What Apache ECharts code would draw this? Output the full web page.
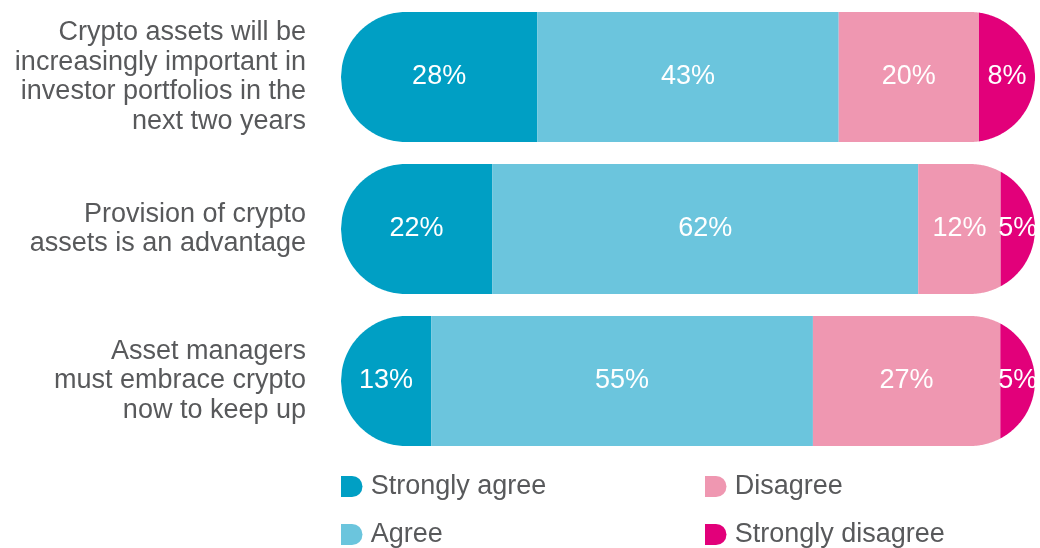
<!DOCTYPE html>
<html>
<head>
<meta charset="utf-8">
<script src="https://cdn.jsdelivr.net/npm/echarts@6/dist/echarts.min.js"></script>
<style>
  html, body { margin: 0; padding: 0; background: #ffffff; }
  #chart { width: 1040px; height: 548px; }
</style>
</head>
<body>
<div id="chart"></div>
<script>
// Survey statements, one pill-shaped bar each
const categories = [
  'Crypto assets will be\nincreasingly important in\ninvestor portfolios in the\nnext two years',
  'Provision of crypto\nassets is an advantage',
  'Asset managers\nmust embrace crypto\nnow to keep up'
];
const segmentNames = ['Strongly agree', 'Agree', 'Disagree', 'Strongly disagree'];
const stronglyAgree = [28, 22, 13];
const agree = [43, 62, 55];
const disagree = [20, 12, 27];
const stronglyDisagree = [8, 5, 5];

const segmentColors = ['#009FC4', '#6BC5DD', '#EF97B1', '#E2007A'];
const segmentValues = [stronglyAgree, agree, disagree, stronglyDisagree];

const FONT = 'Arial';
const TEXT_GREY = '#58595B';
const barTops = [12, 164, 316];
const barHeight = 130;

// Each bar is a pill: segments are clipped to a rounded capsule spanning the whole row.
function makeRenderer(total) {
  return function (params, api) {
    const x0 = api.coord([api.value(0), 0])[0];
    const x1 = api.coord([api.value(1), 0])[0];
    const left = api.coord([0, 0])[0];
    const right = api.coord([total, 0])[0];
    const cy = api.coord([0, 0])[1];
    const r = api.size([0, 1])[1] / 2;
    const halfH = function (x) {
      if (x < left + r) { const d = left + r - x; return Math.sqrt(Math.max(r * r - d * d, 0)); }
      if (x > right - r) { const d = x - (right - r); return Math.sqrt(Math.max(r * r - d * d, 0)); }
      return r;
    };
    const xs = [];
    for (let x = x0; x < x1; x += 1) xs.push(x);
    xs.push(x1);
    const top = xs.map(function (x) { return [x, cy - halfH(x)]; });
    const bottom = xs.slice().reverse().map(function (x) { return [x, cy + halfH(x)]; });
    return {
      type: 'group',
      children: [
        {
          type: 'polygon',
          shape: { points: top.concat(bottom) },
          style: { fill: api.visual('color') }
        },
        {
          type: 'text',
          x: (x0 + x1) / 2,
          y: cy,
          style: {
            text: api.value(2) + '%',
            fill: '#ffffff',
            fontSize: 27,
            fontFamily: FONT,
            align: 'center',
            verticalAlign: 'middle'
          }
        }
      ]
    };
  };
}

const grids = [], xAxes = [], yAxes = [], series = [];
categories.forEach(function (cat, i) {
  const total = segmentValues.reduce(function (s, arr) { return s + arr[i]; }, 0);
  grids.push({ left: 341, right: 5, top: barTops[i], height: barHeight });
  xAxes.push({ gridIndex: i, type: 'value', min: 0, max: total, show: false });
  yAxes.push({
    gridIndex: i,
    type: 'category',
    data: [cat],
    axisLine: { show: false },
    axisTick: { show: false },
    splitLine: { show: false },
    axisLabel: {
      margin: 35,
      color: TEXT_GREY,
      fontSize: 27,
      fontFamily: FONT,
      lineHeight: 29.5,
      align: 'right'
    }
  });
  let start = 0;
  segmentNames.forEach(function (name, k) {
    const v = segmentValues[k][i];
    series.push({
      type: 'custom',
      name: name,
      xAxisIndex: i,
      yAxisIndex: i,
      itemStyle: { color: segmentColors[k] },
      encode: { x: [0, 1], y: 3 },
      renderItem: makeRenderer(total),
      data: [[start, start + v, v, 0]]
    });
    start += v;
  });
});

// Legend: two columns, two rows, D-shaped swatches
const legendIcon = 'path://M0,0H11A10.5,10.5,0,0,1,11,21H0Z';
const legendSlots = [
  { left: 341, top: 473 },
  { left: 341, top: 521 },
  { left: 705, top: 473 },
  { left: 705, top: 521 }
];
const legends = segmentNames.map(function (name, k) {
  return {
    left: legendSlots[k].left,
    top: legendSlots[k].top,
    padding: 0,
    itemWidth: 22,
    itemHeight: 21,
    icon: legendIcon,
    selectedMode: false,
    data: [name],
    textStyle: { color: TEXT_GREY, fontSize: 27, fontFamily: FONT, lineHeight: 21, padding: [3, 0, 0, 3] }
  };
});

const chart = echarts.init(document.getElementById('chart'), null, { renderer: 'canvas' });
chart.setOption({
  animation: false,
  backgroundColor: '#ffffff',
  grid: grids,
  xAxis: xAxes,
  yAxis: yAxes,
  legend: legends,
  series: series
});
</script>
</body>
</html>
